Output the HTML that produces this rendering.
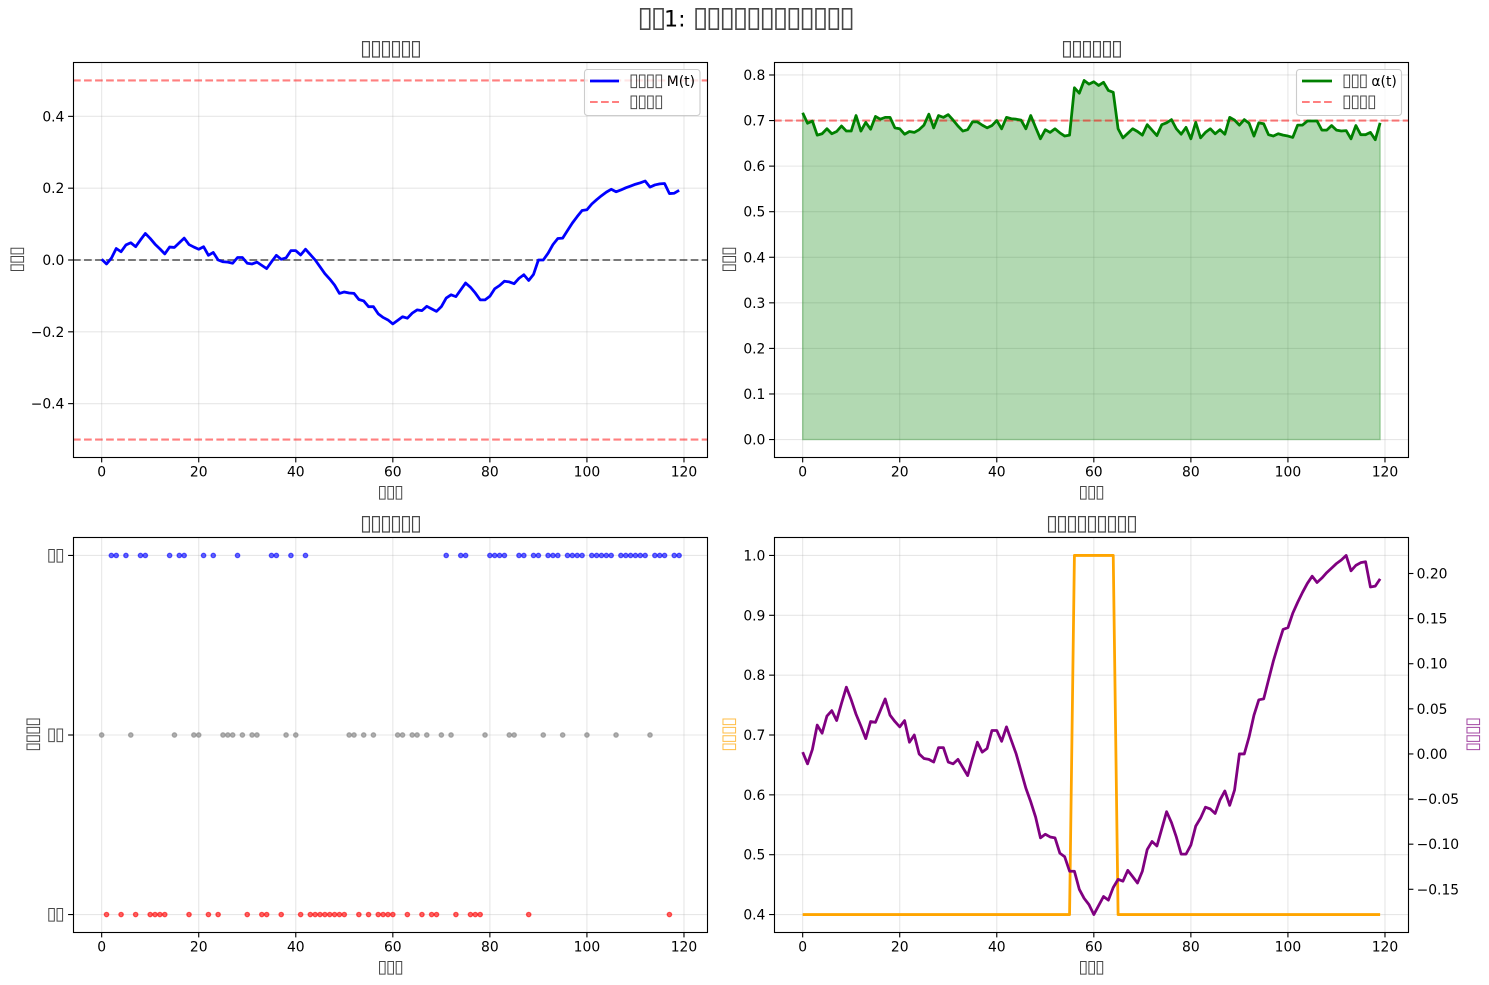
<!DOCTYPE html>
<html lang="en">
<head>
<meta charset="utf-8">
<title>Chart</title>
<style>
html,body{margin:0;padding:0;background:#fff;}
svg{display:block;}
text{font-family:"DejaVu Sans","Liberation Sans",sans-serif;fill:#000;}
.t-sup{font-size:22.2px;}
.t-ax{font-size:16.67px;}
.t-lab{font-size:13.89px;}
.t-tick{font-size:13.89px;}
.box{font-size:1.3em;letter-spacing:-0.0885em;fill-opacity:0.72;}
.t-ax.box{font-size:21.67px;}
.t-lab.box,.t-tick.box{font-size:18.06px;}
</style>
</head>
<body>
<svg id="figure" xmlns="http://www.w3.org/2000/svg" width="1489" height="985" viewBox="0 0 1489 985">
  <rect width="1489" height="985" fill="#fff"/>
  <text class="t-sup" x="745" y="26.5" text-anchor="middle"><tspan class="box">▯▯</tspan>1: <tspan class="box">▯▯▯▯▯▯▯▯▯▯▯▯</tspan></text>

  <g id="ax1">
    <g id="ax1-grid"></g><g id="ax1-marks"></g><g id="ax1-ticks"></g>
    <rect x="73.5" y="62.5" width="634" height="395" fill="none" stroke="#000" stroke-width="1.11"/>
    <text class="t-ax box" x="390" y="55" text-anchor="middle">▯▯▯▯▯▯</text>
    <text class="t-lab box" x="390" y="497.5" text-anchor="middle">▯▯▯</text>
    <text class="t-lab box" transform="translate(22,260) rotate(-90)" text-anchor="middle">▯▯▯</text>
    <g>
      <rect x="584.5" y="69.5" width="115.5" height="46" rx="3" fill="#fff" fill-opacity="0.8" stroke="#ccc" stroke-width="1.11"/>
      <line x1="590" x2="619" y1="81" y2="81" stroke="#0000ff" stroke-width="2.78"/>
      <text class="t-lab" x="629" y="86"><tspan class="box">▯▯▯▯</tspan> M(t)</text>
      <line x1="590" x2="619" y1="102" y2="102" stroke="#ff0000" stroke-opacity="0.5" stroke-width="2.08" stroke-dasharray="7.7 3.33"/>
      <text class="t-lab box" x="629" y="107">▯▯▯▯</text>
    </g>
  </g>

  <g id="ax2">
    <g id="ax2-grid"></g><g id="ax2-marks"></g><g id="ax2-ticks"></g>
    <rect x="774.5" y="62.5" width="634" height="395" fill="none" stroke="#000" stroke-width="1.11"/>
    <text class="t-ax box" x="1091" y="55" text-anchor="middle">▯▯▯▯▯▯</text>
    <text class="t-lab box" x="1091" y="497.5" text-anchor="middle">▯▯▯</text>
    <text class="t-lab box" transform="translate(734,260) rotate(-90)" text-anchor="middle">▯▯▯</text>
    <g>
      <rect x="1296.5" y="69.5" width="105" height="46" rx="3" fill="#fff" fill-opacity="0.8" stroke="#ccc" stroke-width="1.11"/>
      <line x1="1302" x2="1332" y1="81" y2="81" stroke="#008000" stroke-width="2.78"/>
      <text class="t-lab" x="1342" y="86"><tspan class="box">▯▯▯</tspan> α(t)</text>
      <line x1="1302" x2="1332" y1="102" y2="102" stroke="#ff0000" stroke-opacity="0.5" stroke-width="2.08" stroke-dasharray="7.7 3.33"/>
      <text class="t-lab box" x="1342" y="107">▯▯▯▯</text>
    </g>
  </g>

  <g id="ax3">
    <g id="ax3-grid"></g><g id="ax3-marks"></g><g id="ax3-ticks"></g>
    <rect x="73.5" y="537.5" width="634" height="395" fill="none" stroke="#000" stroke-width="1.11"/>
    <text class="t-ax box" x="390" y="530" text-anchor="middle">▯▯▯▯▯▯</text>
    <text class="t-lab box" x="390" y="972.5" text-anchor="middle">▯▯▯</text>
    <text class="t-lab box" transform="translate(38,735) rotate(-90)" text-anchor="middle">▯▯▯▯</text>
  </g>

  <g id="ax4">
    <g id="ax4-grid"></g><g id="ax4-marks"></g><g id="ax4-ticks"></g>
    <rect x="774.5" y="537.5" width="634" height="395" fill="none" stroke="#000" stroke-width="1.11"/>
    <text class="t-ax box" x="1091" y="530" text-anchor="middle">▯▯▯▯▯▯▯▯▯</text>
    <text class="t-lab box" x="1091" y="972.5" text-anchor="middle">▯▯▯</text>
    <text class="t-lab box" style="fill:#ffa500" transform="translate(734,735) rotate(-90)" text-anchor="middle">▯▯▯▯</text>
    <text class="t-lab box" style="fill:#800080" transform="translate(1478,735) rotate(-90)" text-anchor="middle">▯▯▯▯</text>
  </g>
</svg>

<script>
const magnetization = [0.002,-0.011,0.005,0.032,0.023,0.042,0.048,0.037,0.056,0.074,0.06,0.044,0.031,0.017,0.036,0.035,0.048,0.061,0.043,0.036,0.03,0.037,0.013,0.021,0,-0.005,-0.006,-0.009,0.007,0.007,-0.009,-0.011,-0.006,-0.015,-0.024,-0.005,0.013,0.002,0.006,0.026,0.026,0.014,0.03,0.015,0,-0.019,-0.038,-0.053,-0.07,-0.093,-0.089,-0.092,-0.093,-0.11,-0.114,-0.13,-0.13,-0.15,-0.16,-0.167,-0.178,-0.168,-0.158,-0.162,-0.148,-0.139,-0.141,-0.129,-0.136,-0.143,-0.13,-0.106,-0.097,-0.102,-0.083,-0.064,-0.076,-0.092,-0.111,-0.111,-0.101,-0.08,-0.071,-0.059,-0.061,-0.066,-0.051,-0.041,-0.057,-0.04,0,0,0.019,0.043,0.06,0.061,0.082,0.103,0.121,0.138,0.14,0.156,0.168,0.179,0.189,0.197,0.19,0.195,0.201,0.206,0.211,0.215,0.22,0.203,0.209,0.212,0.213,0.185,0.186,0.194];
const alphaValues = [0.717,0.694,0.699,0.668,0.671,0.682,0.671,0.676,0.688,0.677,0.677,0.711,0.677,0.696,0.681,0.709,0.703,0.707,0.707,0.684,0.682,0.67,0.676,0.674,0.68,0.69,0.714,0.684,0.711,0.707,0.713,0.701,0.688,0.677,0.68,0.697,0.697,0.69,0.684,0.689,0.7,0.682,0.707,0.704,0.703,0.701,0.682,0.711,0.685,0.66,0.68,0.674,0.682,0.673,0.666,0.668,0.772,0.76,0.788,0.78,0.785,0.777,0.784,0.766,0.762,0.682,0.662,0.672,0.682,0.676,0.668,0.691,0.679,0.667,0.691,0.695,0.702,0.682,0.67,0.685,0.66,0.696,0.662,0.674,0.682,0.671,0.68,0.67,0.707,0.701,0.69,0.702,0.694,0.666,0.695,0.693,0.669,0.666,0.671,0.668,0.666,0.663,0.69,0.69,0.699,0.699,0.699,0.679,0.679,0.689,0.679,0.677,0.678,0.66,0.689,0.669,0.669,0.674,0.658,0.695];
const decisions = [0,-1,1,1,-1,1,0,-1,1,1,-1,-1,-1,-1,1,0,1,1,-1,0,0,1,-1,1,-1,0,0,0,1,0,-1,0,0,-1,-1,1,1,-1,0,1,0,-1,1,-1,-1,-1,-1,-1,-1,-1,-1,0,0,-1,0,-1,0,-1,-1,-1,-1,0,0,-1,0,0,-1,0,-1,-1,0,1,0,-1,1,1,-1,-1,-1,0,1,1,1,1,0,0,1,1,-1,1,1,0,1,1,1,0,1,1,1,1,0,1,1,1,1,1,0,1,1,1,1,1,1,0,1,1,1,-1,1,1];
const volatility = [0.4,0.4,0.4,0.4,0.4,0.4,0.4,0.4,0.4,0.4,0.4,0.4,0.4,0.4,0.4,0.4,0.4,0.4,0.4,0.4,0.4,0.4,0.4,0.4,0.4,0.4,0.4,0.4,0.4,0.4,0.4,0.4,0.4,0.4,0.4,0.4,0.4,0.4,0.4,0.4,0.4,0.4,0.4,0.4,0.4,0.4,0.4,0.4,0.4,0.4,0.4,0.4,0.4,0.4,0.4,0.4,1,1,1,1,1,1,1,1,1,0.4,0.4,0.4,0.4,0.4,0.4,0.4,0.4,0.4,0.4,0.4,0.4,0.4,0.4,0.4,0.4,0.4,0.4,0.4,0.4,0.4,0.4,0.4,0.4,0.4,0.4,0.4,0.4,0.4,0.4,0.4,0.4,0.4,0.4,0.4,0.4,0.4,0.4,0.4,0.4,0.4,0.4,0.4,0.4,0.4,0.4,0.4,0.4,0.4,0.4,0.4,0.4,0.4,0.4,0.4];

const stepTicks = [0,20,40,60,80,100,120];
const magnetizationTicks = [-0.4,-0.2,0,0.2,0.4];
const magnetizationTickLabels = ['−0.4','−0.2','0.0','0.2','0.4'];
const magnetizationLimits = [0.5,-0.5];
const alphaTicks = [0,0.1,0.2,0.3,0.4,0.5,0.6,0.7,0.8];
const alphaTickLabels = ['0.0','0.1','0.2','0.3','0.4','0.5','0.6','0.7','0.8'];
const criticalAlpha = [0.7];
const decisionTicks = [-1,0,1];
const decisionTickLabels = ['▯▯','▯▯','▯▯'];
const volatilityTicks = [0.4,0.5,0.6,0.7,0.8,0.9,1.0];
const volatilityTickLabels = ['0.4','0.5','0.6','0.7','0.8','0.9','1.0'];
const rightTicks = [-0.15,-0.10,-0.05,0,0.05,0.10,0.15,0.20];
const rightTickLabels = ['−0.15','−0.10','−0.05','0.00','0.05','0.10','0.15','0.20'];

const SVGNS = 'http://www.w3.org/2000/svg';
function make(parent, tag, props) {
  const el = document.createElementNS(SVGNS, tag);
  for (const k in props) el.setAttribute(k, props[k]);
  parent.appendChild(el);
  return el;
}
function padded(values) {
  const lo = Math.min(...values), hi = Math.max(...values), m = (hi - lo) * 0.05;
  return [lo - m, hi + m];
}
function linear(domain, range) {
  return v => range[0] + (v - domain[0]) / (domain[1] - domain[0]) * (range[1] - range[0]);
}
const steps = magnetization.map((_, i) => i);
const xDomain = padded(steps);

function panel(id, left, top) {
  const W = 634, H = 395;
  return {
    left, top, right: left + W, bottom: top + H,
    x: linear(xDomain, [left - 0.2, left + W + 1]),
    grid: document.getElementById(id + '-grid'),
    marks: document.getElementById(id + '-marks'),
    ticks: document.getElementById(id + '-ticks')
  };
}
function drawXAxis(p) {
  stepTicks.forEach(t => {
    const px = p.x(t);
    const g = make(p.grid, 'line', {x1:px, x2:px, y1:p.top, y2:p.bottom, stroke:'#b0b0b0', 'stroke-opacity':0.3, 'stroke-width':1.11});
    
    
    const k = make(p.ticks, 'line', {x1:px, x2:px, y1:p.bottom, y2:p.bottom + 5.4, stroke:'#000', 'stroke-width':1.11});
    
    
    const l = make(p.ticks, 'text', {x:px, y:p.bottom + 19.5, 'text-anchor':'middle', class:'t-tick'});
    l.textContent = String(t);
    
    
  });
}
function drawYAxis(p, y, ticks, labels, boxed) {
  ticks.forEach((v, i) => {
    const py = y(v);
    const g = make(p.grid, 'line', {x1:p.left, x2:p.right, y1:py, y2:py, stroke:'#b0b0b0', 'stroke-opacity':0.3, 'stroke-width':1.11});
    
    
    const k = make(p.ticks, 'line', {x1:p.left - 4.9, x2:p.left, y1:py, y2:py, stroke:'#000', 'stroke-width':1.11});
    
    
    const l = make(p.ticks, 'text', {x:p.left - (boxed ? 9.6 : 8.6), y:py + 5, 'text-anchor':'end', class:boxed ? 't-tick box' : 't-tick'});
    l.textContent = labels[i];
    
    
  });
}
function drawRightAxis(p, y, ticks, labels) {
  ticks.forEach((v, i) => {
    const py = y(v);
    const k = make(p.ticks, 'line', {x1:p.right + 0.5, x2:p.right + 5.4, y1:py, y2:py, stroke:'#000', 'stroke-width':1.11});
    
    
    const l = make(p.ticks, 'text', {x:p.right + 8.6, y:py + 5, 'text-anchor':'start', class:'t-tick'});
    l.textContent = labels[i];
    
    
  });
}
function pathOf(p, y, values) {
  return values.map((v, i) => (i ? 'L' : 'M') + p.x(i).toFixed(2) + ' ' + y(v).toFixed(2)).join('');
}
function hline(p, py, color, opacity) {
  return make(p.marks, 'line', {x1:p.left, x2:p.right, y1:py, y2:py, stroke:color, 'stroke-opacity':opacity, 'stroke-width':2.08, 'stroke-dasharray':'7.7 3.33'});
}

/* Panel 1: magnetization */
const p1 = panel('ax1', 73, 62);
const y1 = linear(padded(magnetization.concat(magnetizationLimits)), [p1.bottom + 0.5, p1.top + 0.5]);
drawXAxis(p1);
drawYAxis(p1, y1, magnetizationTicks, magnetizationTickLabels, false);
magnetizationLimits.forEach(v => {
  const l = hline(p1, y1(v), '#ff0000', 0.5);
  
  
});
const zeroLine = hline(p1, y1(0), '#000000', 0.5);


const mLine = make(p1.marks, 'path', {d:pathOf(p1, y1, magnetization), fill:'none', stroke:'#0000ff', 'stroke-width':2.78, 'stroke-linejoin':'round'});



/* Panel 2: alpha */
const p2 = panel('ax2', 774, 62);
const y2 = linear(padded(alphaValues.concat([0])), [p2.bottom + 0.5, p2.top + 0.5]);
drawXAxis(p2);
drawYAxis(p2, y2, alphaTicks, alphaTickLabels, false);
const alphaArea = make(p2.marks, 'path', {
  d: pathOf(p2, y2, alphaValues) + 'L' + p2.x(steps.length - 1).toFixed(2) + ' ' + y2(0).toFixed(2) + 'L' + p2.x(0).toFixed(2) + ' ' + y2(0).toFixed(2) + 'Z',
  fill:'#008000', 'fill-opacity':0.3, stroke:'#008000', 'stroke-opacity':0.3, 'stroke-width':1.39
});


const critLine = hline(p2, y2(criticalAlpha[0]), '#ff0000', 0.5);


const aLine = make(p2.marks, 'path', {d:pathOf(p2, y2, alphaValues), fill:'none', stroke:'#008000', 'stroke-width':2.78, 'stroke-linejoin':'round'});



/* Panel 3: decisions */
const p3 = panel('ax3', 73, 537);
const y3 = linear([-1.1, 1.1], [p3.bottom + 0.5, p3.top + 0.5]);
const decisionColors = {'1':'#0000ff', '0':'#808080', '-1':'#ff0000'};
drawXAxis(p3);
drawYAxis(p3, y3, decisionTicks, decisionTickLabels, true);
decisions.forEach((d, i) => {
  const c = make(p3.marks, 'circle', {cx:p3.x(i), cy:y3(d), r:2.2, fill:decisionColors[d], 'fill-opacity':0.6, stroke:decisionColors[d], 'stroke-opacity':0.6, 'stroke-width':1.3});
  
  
});

/* Panel 4: volatility and magnetization */
const p4 = panel('ax4', 774, 537);
const y4 = linear(padded(volatility), [p4.bottom + 0.5, p4.top + 0.5]);
const y4r = linear(padded(magnetization), [p4.bottom + 0.5, p4.top + 0.5]);
drawXAxis(p4);
drawYAxis(p4, y4, volatilityTicks, volatilityTickLabels, false);
drawRightAxis(p4, y4r, rightTicks, rightTickLabels);
const vLine = make(p4.marks, 'path', {d:pathOf(p4, y4, volatility), fill:'none', stroke:'#ffa500', 'stroke-width':2.78, 'stroke-linejoin':'round'});


const m2Line = make(p4.marks, 'path', {d:pathOf(p4, y4r, magnetization), fill:'none', stroke:'#800080', 'stroke-width':2.78, 'stroke-linejoin':'round'});


</script>
</body>
</html>
